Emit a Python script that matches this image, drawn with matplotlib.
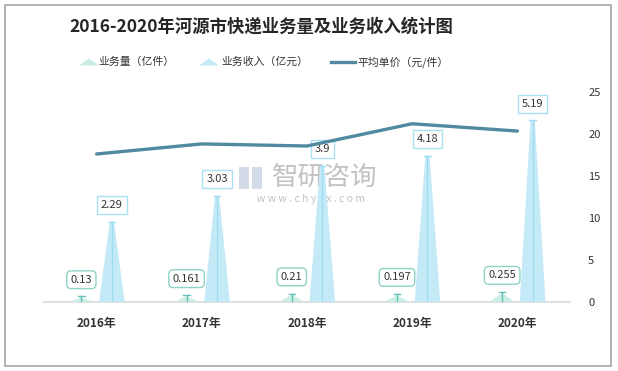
import matplotlib
matplotlib.use("Agg")
import matplotlib.pyplot as plt
from matplotlib.patches import Polygon, Rectangle
from matplotlib.lines import Line2D
import numpy as np

plt.rcParams['font.family'] = ['Noto Sans CJK SC', 'DejaVu Sans']

title = "2016-2020年河源市快递业务量及业务收入统计图"
years = ["2016年", "2017年", "2018年", "2019年", "2020年"]
volume = [0.13, 0.161, 0.21, 0.197, 0.255]        # 业务量（亿件）
revenue = [2.29, 3.03, 3.9, 4.18, 5.19]           # 业务收入（亿元）
price = [17.62, 18.82, 18.57, 21.22, 20.35]       # 平均单价（元/件）
vol_labels = ["0.13", "0.161", "0.21", "0.197", "0.255"]
rev_labels = ["2.29", "3.03", "3.9", "4.18", "5.19"]
legend_names = ["业务量（亿件）", "业务收入（亿元）", "平均单价（元/件）"]

W, H = 618, 371
fig = plt.figure(figsize=(W / 100, H / 100), dpi=100)

# background overlay for border / legend / watermark (pixel coords)
bg = fig.add_axes([0, 0, 1, 1])
bg.set_xlim(0, W)
bg.set_ylim(H, 0)
bg.axis("off")
bg.add_patch(Rectangle((4.5, 4.5), 606, 361, fill=False, ec="#a6a6a6", lw=1.2))

ax = fig.add_axes([44 / W, 1 - 302 / H, (570 - 44) / W, (302 - 92) / H])
ax.set_zorder(2)
ax.patch.set_visible(False)
ax.set_xlim(-0.5, 4.5)
ax.set_ylim(0, 6)
ax.set_yticks([])
for s in ["top", "right", "left"]:
    ax.spines[s].set_visible(False)
ax.spines["bottom"].set_color("#d9d9d9")
ax.spines["bottom"].set_linewidth(1.2)
x = np.arange(len(years))
ax.set_xticks(x)
ax.set_xticklabels(years, fontsize=8.5, fontweight="bold", color="#333333")
ax.tick_params(axis="x", length=0, pad=11)

off = 0.145
hw = 0.122
vol_face = "#c9ece6"
vol_edge = "#62c2b3"
rev_face = "#c4eaf8"
rev_edge = "#9edcef"

for i in range(len(years)):
    # volume mountain
    xv = x[i] - off
    ax.add_patch(Polygon([[xv - hw, 0], [xv, volume[i]], [xv + hw, 0]],
                         closed=True, fc=vol_face, ec="none", alpha=0.9, zorder=3))
    # revenue mountain
    xr = x[i] + off
    ax.add_patch(Polygon([[xr - hw, 0], [xr - 0.02, revenue[i]], [xr + 0.02, revenue[i]], [xr + hw, 0]],
                         closed=True, fc=rev_face, ec="none", zorder=3))
    ax.plot([xr, xr], [0, revenue[i]], color=rev_edge, lw=1.0, zorder=4)
    ax.plot([xr - 0.03, xr + 0.03], [revenue[i], revenue[i]], color=rev_edge, lw=1.0, zorder=4)
    ax.annotate(rev_labels[i], xy=(xr, revenue[i]), xytext=(0, 12), textcoords="offset points",
                ha="center", va="center", fontsize=8, color="#333333", zorder=6,
                bbox=dict(boxstyle="square,pad=0.35", fc="white", ec="#a9e0f2", lw=1.0))
    # volume stem + label
    ax.plot([xv, xv], [0, volume[i] + 0.03], color=vol_edge, lw=1.0, zorder=4)
    ax.plot([xv - 0.03, xv + 0.03], [volume[i] + 0.03, volume[i] + 0.03], color=vol_edge, lw=1.0, zorder=4)
    ax.annotate(vol_labels[i], xy=(xv, volume[i] + 0.03), xytext=(0, 12), textcoords="offset points",
                ha="center", va="center", fontsize=8, color="#333333", zorder=6,
                bbox=dict(boxstyle="round,pad=0.35,rounding_size=0.4", fc="white", ec="#8fd3c8", lw=1.0))

ax2 = ax.twinx()
ax2.set_zorder(3)
ax2.patch.set_visible(False)
ax2.set_ylim(0, 25)
ax2.set_yticks([0, 5, 10, 15, 20, 25])
ax2.tick_params(axis="y", length=0, labelsize=8, labelcolor="#333333", pad=13)
for s in ["top", "right", "left", "bottom"]:
    ax2.spines[s].set_visible(False)
ax2.plot(x, price, color="#5189a0", lw=2.4, solid_capstyle="round", zorder=5)

# title
fig.text(261 / W, 1 - 27 / H, title, ha="center", va="center", fontsize=12.5,
         fontweight="bold", color="#262626")

# legend
ly = 62
def mountain(cx, color):
    bg.add_patch(Polygon([[cx - 10, ly + 3.5], [cx, ly - 3.5], [cx + 10, ly + 3.5]], closed=True,
                         fc=color, ec="none"))
mountain(89, vol_face)
bg.text(98, ly, legend_names[0], ha="left", va="center", fontsize=7.8, color="#333333")
mountain(209, rev_face)
bg.text(221, ly, legend_names[1], ha="left", va="center", fontsize=7.8, color="#333333")
bg.add_line(Line2D([331, 355], [ly, ly], color="#5189a0", lw=2.4))
bg.text(357, ly, legend_names[2], ha="left", va="center", fontsize=7.8, color="#333333")

# watermark
bg.add_patch(Rectangle((239, 167), 10, 22, fc="#c9d3e3", ec="none", alpha=0.8))
bg.add_patch(Rectangle((252, 167), 10, 22, fc="#c9d3e3", ec="none", alpha=0.8))
bg.text(325, 177, "智研咨询", ha="center", va="center", fontsize=19, color="#b3b3b3", alpha=0.8)
bg.text(311, 199, "w w w . c h y x x . c o m", ha="center", va="center", fontsize=7.5, color="#b3b3b3", alpha=0.8)

fig.savefig("out.png", dpi=100)
